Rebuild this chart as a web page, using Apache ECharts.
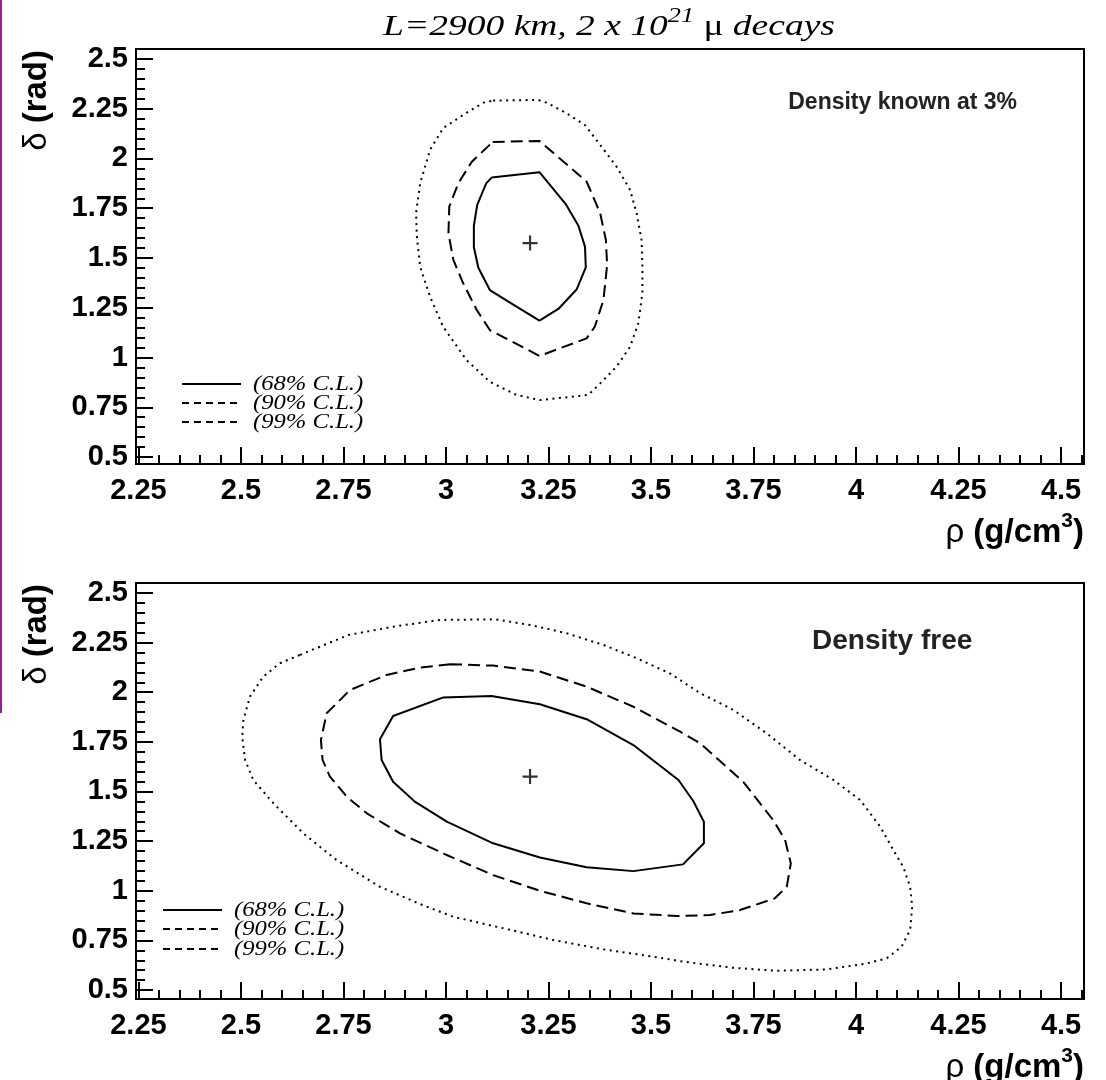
<!DOCTYPE html>
<html><head><meta charset="utf-8">
<script src="https://cdn.jsdelivr.net/npm/echarts@6/dist/echarts.min.js"></script>
<style>html,body{margin:0;padding:0;background:#fff}#c{width:1106px;height:1080px}</style>
</head><body><div id="c"></div>
<script>
// ---- data ----
const xTicks = [2.25, 2.5, 2.75, 3, 3.25, 3.5, 3.75, 4, 4.25, 4.5];
const xTickLabels = ['2.25', '2.5', '2.75', '3', '3.25', '3.5', '3.75', '4', '4.25', '4.5'];
const yTicks = [0.5, 0.75, 1, 1.25, 1.5, 1.75, 2, 2.25, 2.5];
const yTickLabels = ['0.5', '0.75', '1', '1.25', '1.5', '1.75', '2', '2.25', '2.5'];
const legendLabels = ['(68% C.L.)', '(90% C.L.)', '(99% C.L.)'];
const panelLabels = ['Density known at 3%', 'Density free'];
const bestFit = [[3.205, 1.575]];

const top68 = [[3.111,1.904],[3.228,1.931],[3.292,1.771],[3.323,1.662],[3.339,1.557],[3.341,1.453],[3.319,1.343],[3.274,1.244],[3.228,1.185],[3.170,1.258],[3.107,1.339],[3.079,1.451],[3.068,1.554],[3.068,1.662],[3.076,1.766],[3.098,1.875],[3.111,1.904]];
const top90 = [[3.114,2.083],[3.228,2.088],[3.343,1.884],[3.376,1.725],[3.390,1.590],[3.393,1.465],[3.384,1.289],[3.363,1.155],[3.343,1.096],[3.228,1.008],[3.107,1.138],[3.075,1.239],[3.042,1.373],[3.018,1.490],[3.006,1.624],[3.008,1.758],[3.030,1.875],[3.063,1.984],[3.114,2.083]];
const top99 = [[3.115,2.291],[3.225,2.294],[3.246,2.280],[3.294,2.227],[3.339,2.168],[3.376,2.068],[3.416,1.959],[3.449,1.842],[3.465,1.725],[3.477,1.590],[3.479,1.456],[3.479,1.322],[3.469,1.172],[3.449,1.054],[3.416,0.954],[3.376,0.870],[3.347,0.812],[3.229,0.786],[3.172,0.812],[3.107,0.878],[3.050,0.987],[2.993,1.155],[2.961,1.306],[2.937,1.456],[2.929,1.607],[2.927,1.725],[2.937,1.875],[2.961,2.043],[2.993,2.152],[3.042,2.219],[3.091,2.280],[3.115,2.291]];

const bot68 = [[2.992,1.973],[3.111,1.981],[3.229,1.939],[3.343,1.864],[3.457,1.734],[3.567,1.558],[3.603,1.452],[3.629,1.348],[3.629,1.239],[3.578,1.133],[3.457,1.099],[3.343,1.118],[3.229,1.168],[3.115,1.239],[3.002,1.348],[2.924,1.449],[2.871,1.549],[2.843,1.659],[2.839,1.763],[2.871,1.880],[2.992,1.973]];
const bot90 = [[3.010,2.141],[3.115,2.134],[3.229,2.104],[3.343,2.028],[3.457,1.927],[3.571,1.801],[3.620,1.743],[3.725,1.549],[3.798,1.356],[3.827,1.256],[3.841,1.138],[3.831,1.020],[3.802,0.962],[3.717,0.903],[3.644,0.878],[3.563,0.873],[3.457,0.886],[3.343,0.937],[3.229,1.000],[3.115,1.079],[3.002,1.180],[2.888,1.289],[2.807,1.390],[2.758,1.474],[2.717,1.575],[2.699,1.659],[2.695,1.759],[2.709,1.894],[2.766,2.011],[2.855,2.087],[2.937,2.124],[3.010,2.141]];
const bot99 = [[2.644,2.188],[2.762,2.288],[2.871,2.330],[2.985,2.364],[3.120,2.367],[3.205,2.339],[3.294,2.297],[3.384,2.238],[3.465,2.171],[3.546,2.095],[3.620,1.995],[3.701,1.911],[3.782,1.793],[3.863,1.659],[3.945,1.558],[4.010,1.457],[4.059,1.323],[4.091,1.205],[4.115,1.121],[4.132,1.020],[4.137,0.920],[4.132,0.802],[4.111,0.718],[4.075,0.660],[4.026,0.634],[3.929,0.604],[3.807,0.597],[3.701,0.612],[3.579,0.643],[3.506,0.668],[3.384,0.705],[3.262,0.752],[3.140,0.811],[3.018,0.869],[2.937,0.933],[2.839,1.020],[2.733,1.155],[2.652,1.289],[2.579,1.441],[2.530,1.558],[2.510,1.659],[2.503,1.776],[2.506,1.860],[2.522,1.978],[2.554,2.078],[2.595,2.146],[2.644,2.188]];

// ---- layout / style ----
const SANS = 'Liberation Sans';
const SERIF = 'Liberation Serif';
const X_MIN = 2.244, X_MAX = 4.556;
const panels = [
  {left: 136, top: 49, width: 948, height: 415, yMin: 0.465, yMax: 2.55},
  {left: 136, top: 583, width: 948, height: 416, yMin: 0.455, yMax: 2.55}
];
function minorList(a, b, step) {
  const out = [];
  for (let i = 0; ; i++) { const v = +(a + i * step).toFixed(4); if (v > b + 1e-9) break; out.push(v); }
  return out;
}
const xMinor = minorList(2.25, X_MAX, 0.05);
function lab(vals, labels) {
  return v => { const i = vals.findIndex(t => Math.abs(t - v) < 1e-6); return i >= 0 ? labels[i] : ''; };
}

const grid = [], xAxis = [], yAxis = [], series = [];
panels.forEach((p, k) => {
  grid.push({left: p.left, top: p.top, width: p.width, height: p.height, show: true,
    borderColor: '#000', borderWidth: 2, backgroundColor: 'transparent', containLabel: false});
  const yMinor = minorList(0.5, p.yMax, 0.05);
  xAxis.push({type: 'value', gridIndex: k, min: X_MIN, max: X_MAX, position: 'bottom',
    axisLine: {show: true, lineStyle: {color: '#000', width: 2}},
    axisTick: {show: true, inside: true, length: 17, customValues: xTicks, lineStyle: {color: '#000', width: 2}},
    axisLabel: {show: true, customValues: xTicks, formatter: lab(xTicks, xTickLabels), margin: 12,
      color: '#000', fontFamily: SANS, fontWeight: 'bold', fontSize: 29},
    splitLine: {show: false}});
  xAxis.push({type: 'value', gridIndex: k, min: X_MIN, max: X_MAX, position: 'bottom',
    axisLine: {show: false}, axisLabel: {show: false}, splitLine: {show: false},
    axisTick: {show: true, inside: true, length: 9, customValues: xMinor, lineStyle: {color: '#000', width: 2}}});
  yAxis.push({type: 'value', gridIndex: k, min: p.yMin, max: p.yMax, position: 'left',
    axisLine: {show: true, lineStyle: {color: '#000', width: 2}},
    axisTick: {show: true, inside: true, length: 17, customValues: yTicks, lineStyle: {color: '#000', width: 2}},
    axisLabel: {show: true, customValues: yTicks, formatter: lab(yTicks, yTickLabels), margin: 8,
      color: '#000', fontFamily: SANS, fontWeight: 'bold', fontSize: 29},
    splitLine: {show: false}});
  yAxis.push({type: 'value', gridIndex: k, min: p.yMin, max: p.yMax, position: 'left',
    axisLine: {show: false}, axisLabel: {show: false}, splitLine: {show: false},
    axisTick: {show: true, inside: true, length: 9, customValues: yMinor, lineStyle: {color: '#000', width: 2}}});
});

const contourSets = [[top68, top90, top99], [bot68, bot90, bot99]];
const styles = [
  {type: 'solid', width: 2},
  {type: [12, 6], width: 2},
  {type: [2, 4.5], width: 2}
];
contourSets.forEach((set, k) => {
  set.forEach((d, j) => {
    series.push({type: 'line', name: legendLabels[j], xAxisIndex: 2 * k, yAxisIndex: 2 * k, data: d,
      showSymbol: false, symbol: 'none', smooth: false, silent: true, animation: false,
      lineStyle: Object.assign({color: '#000'}, styles[j])});
  });
  series.push({type: 'scatter', xAxisIndex: 2 * k, yAxisIndex: 2 * k, data: bestFit, silent: true, animation: false,
    symbol: 'path://M6,0H8V6H14V8H8V14H6V8H0V6H6Z', symbolSize: 15, itemStyle: {color: '#000'}});
});

// ---- texts (graphic) ----
const graphic = [];
graphic.push({type: 'rect', shape: {x: 0, y: 0, width: 2, height: 713}, style: {fill: '#9a1a9a'}});
graphic.push({type: 'text', x: 609, y: 42, scaleX: 1.25, style: {
  text: '{i|L=2900 km, 2 x 10}{s|21}{m| μ}{i| decays}', align: 'center', verticalAlign: 'bottom',
  rich: {
    i: {fontFamily: SERIF, fontStyle: 'italic', fontSize: 30, lineHeight: 36, verticalAlign: 'bottom', fill: '#000'},
    m: {fontFamily: SERIF, fontSize: 30, lineHeight: 36, verticalAlign: 'bottom', fill: '#000'},
    s: {fontFamily: SERIF, fontStyle: 'italic', fontSize: 21, lineHeight: 21, verticalAlign: 'top', fill: '#000'}
  }}});
const legendPos = [{x0: 182, x1: 241, ys: [384, 403, 422], tx: 253}, {x0: 163, x1: 222, ys: [910, 929, 949], tx: 234}];
const legendDash = ['solid', [7, 5], [7, 5]];
const labelPos = [{x: 1017, y: 103, size: 23, align: 'right'}, {x: 812, y: 641, size: 28, align: 'left'}];
panels.forEach((p, k) => {
  graphic.push({type: 'text', x: 37, y: p.top + 1, rotation: Math.PI / 2, style: {
    text: '{r|δ}{b| (rad)}', align: 'right', verticalAlign: 'middle',
    rich: {r: {fontFamily: SANS, fontSize: 33, fill: '#000'}, b: {fontFamily: SANS, fontWeight: 'bold', fontSize: 33, fill: '#000'}}}});
  graphic.push({type: 'text', x: 1084, y: p.top + p.height + 85, style: {
    text: '{r|ρ}{b| (g/cm}{s|3}{b|)}', align: 'right', verticalAlign: 'bottom',
    rich: {
      r: {fontFamily: SANS, fontSize: 33, lineHeight: 38, verticalAlign: 'bottom', fill: '#000'},
      b: {fontFamily: SANS, fontWeight: 'bold', fontSize: 33, lineHeight: 38, verticalAlign: 'bottom', fill: '#000'},
      s: {fontFamily: SANS, fontWeight: 'bold', fontSize: 21, lineHeight: 21, verticalAlign: 'top', fill: '#000'}
    }}});
  const lp = labelPos[k];
  graphic.push({type: 'text', x: lp.x, y: lp.y, style: {
    text: panelLabels[k], align: lp.align, verticalAlign: 'middle',
    fontFamily: SANS, fontWeight: 'bold', fontSize: lp.size, fill: '#222'}});
  const L = legendPos[k];
  L.ys.forEach((y, j) => {
    graphic.push({type: 'line', shape: {x1: L.x0, y1: y, x2: L.x1, y2: y},
      style: {stroke: '#000', lineWidth: 2, lineDash: legendDash[j] === 'solid' ? null : legendDash[j]}});
    graphic.push({type: 'text', x: L.tx, y: y, scaleX: 1.12, style: {text: legendLabels[j], align: 'left', verticalAlign: 'middle',
      fontFamily: SERIF, fontStyle: 'italic', fontSize: 22, fill: '#000'}});
  });
});

const chart = echarts.init(document.getElementById('c'), null, {renderer: 'canvas'});
chart.setOption({animation: false, backgroundColor: '#fff', grid, xAxis, yAxis, series, graphic});
</script></body></html>
